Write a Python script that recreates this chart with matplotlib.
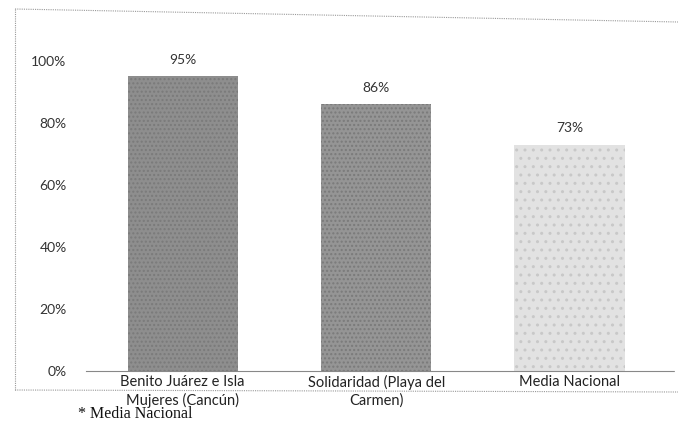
import numpy as np
import matplotlib.pyplot as plt
from matplotlib.lines import Line2D
from matplotlib.ticker import PercentFormatter

plt.rcParams['font.family'] = ['Lato', 'DejaVu Sans']

categorias = ['Benito Juárez e Isla\nMujeres (Cancún)',
              'Solidaridad (Playa del\nCarmen)',
              'Media Nacional']
valores = [0.95, 0.86, 0.73]
etiquetas = ['95%', '86%', '73%']
colores = ['#8e8e8e', '#959595', '#e2e2e2']
nota = '* Media Nacional'

W, H = 678, 423
fig = plt.figure(figsize=(W / 100, H / 100), dpi=100)

# axes placed so that 0% sits at y~371 px and 100% at y~61 px
y0, y100 = 371, 61
ax = fig.add_axes([86 / W, 1 - y0 / H, (674 - 86) / W, (y0 - 40) / H])
ax.set_ylim(0, (y0 - 40) / (y0 - y100))
ax.set_xlim(-0.5, 2.54)

x = np.arange(len(categorias))
bars = ax.bar(x, valores, width=0.57, color=colores, edgecolor='none')
for b in bars[:2]:
    b.set_hatch('....')
    b.set_edgecolor('#7a7a7a')
    b.set_linewidth(0)
bars[2].set_hatch('..')
bars[2].set_edgecolor('#c8c8c8')
bars[2].set_linewidth(0)

for xi, v, lab in zip(x, valores, etiquetas):
    ax.text(xi, v + 0.035, lab, ha='center', va='bottom', fontsize=10, color='#333333')

ax.set_yticks([0, 0.2, 0.4, 0.6, 0.8, 1.0])
ax.yaxis.set_major_formatter(PercentFormatter(1.0, decimals=0))
ax.set_xticks(x)
ax.set_xticklabels(categorias, fontsize=10.5, linespacing=1.3, color='#222222')
ax.tick_params(axis='y', length=0, pad=14, labelsize=10, labelcolor='#333333')
ax.tick_params(axis='x', length=0, pad=3)

for s in ['top', 'right', 'left']:
    ax.spines[s].set_visible(False)
ax.spines['bottom'].set_linestyle((0, (1, 1)))
ax.spines['bottom'].set_color('#888888')
ax.spines['bottom'].set_linewidth(0.8)

# dotted border around the chart (slightly skewed, as in the scan)
def fx(px):
    return px / W

def fy(py):
    return 1 - py / H

borde = dict(color='#999999', linewidth=0.8, linestyle=(0, (1, 1)))
fig.add_artist(Line2D([fx(15), fx(678)], [fy(9), fy(22)], **borde))
fig.add_artist(Line2D([fx(15), fx(15)], [fy(9), fy(390)], **borde))
fig.add_artist(Line2D([fx(15), fx(678)], [fy(390), fy(392)], **borde))

fig.text(fx(78), fy(422), nota, ha='left', va='bottom', fontsize=11.5,
         family=['Liberation Serif', 'DejaVu Serif'], color='#111111')

plt.savefig('out.png', dpi=100)
